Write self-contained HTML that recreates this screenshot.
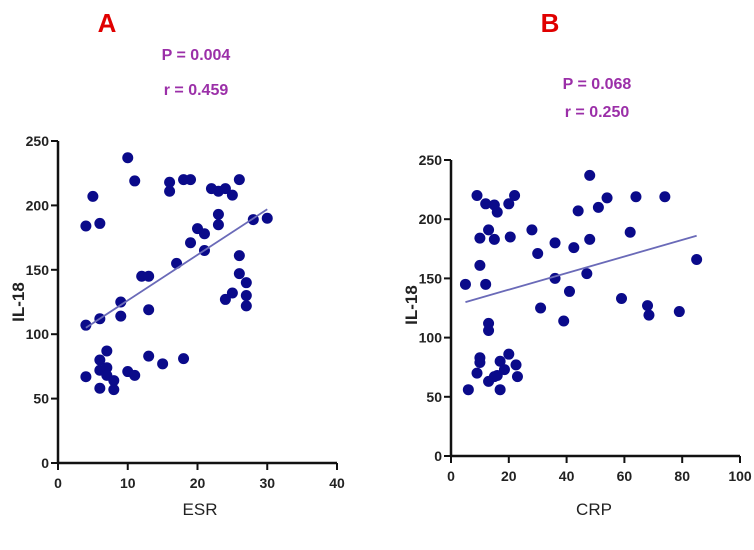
<!DOCTYPE html>
<html><head><meta charset="utf-8"><style>
body{margin:0;background:#fff;width:754px;height:545px;overflow:hidden}
svg{font-family:"Liberation Sans",sans-serif}
.tk{font-size:14px;font-weight:bold;fill:#222}
</style></head><body>
<svg id="c" width="754" height="545">
<text x="107" y="32" fill="#e00000" font-size="26" font-weight="bold" text-anchor="middle">A</text>
<text x="550" y="32" fill="#e00000" font-size="26" font-weight="bold" text-anchor="middle">B</text>
<text x="196" y="60" fill="#9b2fa8" font-size="16" font-weight="bold" text-anchor="middle">P = 0.004</text>
<text x="196" y="95" fill="#9b2fa8" font-size="16" font-weight="bold" text-anchor="middle">r = 0.459</text>
<text x="597" y="89" fill="#9b2fa8" font-size="16" font-weight="bold" text-anchor="middle">P = 0.068</text>
<text x="597" y="117" fill="#9b2fa8" font-size="16" font-weight="bold" text-anchor="middle">r = 0.250</text>
<text x="200" y="515" font-size="17" text-anchor="middle" fill="#222">ESR</text>
<text x="594" y="515" font-size="17" text-anchor="middle" fill="#222">CRP</text>
<text transform="translate(24,302) rotate(-90)" font-size="17" font-weight="bold" text-anchor="middle" fill="#222">IL-18</text>
<text transform="translate(417,305) rotate(-90)" font-size="17" font-weight="bold" text-anchor="middle" fill="#222">IL-18</text>
</svg>
<script>
const aX=[4,5,6,4,6,10,11,16,16,18,19,22,23,24,25,26,23,23,28,30,20,21,19,21,26,26,27,27,27,17,12,13,9,9,13,24,25,7,6,6,7,7,4,6,8,8,10,11,13,15,18];
const aY=[184,207,186,107,112,237,219,218,211,220,220,213,211,213,208,220,193,185,189,190,182,178,171,165,161,147,140,130,122,155,145,145,125,114,119,127,132,87,80,72,74,68,67,58,64,57,71,68,83,77,81];
const aFit=[[4,105],[30,197]];
const aXTicks=[0,10,20,30,40];
const aYTicks=[0,50,100,150,200,250];
const bX=[9,12,15,16,20,22,13,10,15,20.5,10,5,12,13,13,10,10,9,6,13,15,16,17,17,18.5,20,22.5,23,28,30,31,36,36,39,41,42.5,44,47,48,48,51,54,59,62,64,68,68.5,74,79,85];
const bY=[220,213,212,206,213,220,191,184,183,185,161,145,145,112,106,83,79,70,56,63,67,68,56,80,73,86,77,67,191,171,125,180,150,114,139,176,207,154,183,237,210,218,133,189,219,127,119,219,122,166];
const bFit=[[5,130],[85,186]];
const bXTicks=[0,20,40,60,80,100];
const bYTicks=[0,50,100,150,200,250];
const NS="http://www.w3.org/2000/svg",svg=document.getElementById('c');
function mk(t,a){const e=document.createElementNS(NS,t);for(const k in a)e.setAttribute(k,a[k]);svg.appendChild(e);return e;}
function panel(p,xs,ys,fit,xt,yt,x0,x1,xmax,y0,y1,ymax){
 const sx=v=>x0+(x1-x0)*v/xmax, sy=v=>y0-(y0-y1)*v/ymax;
 let e=mk('line',{x1:x0,y1:y0+1,x2:x0,y2:y1,stroke:'#111','stroke-width':2.5});
 
 
 e=mk('line',{x1:x0-1,y1:y0,x2:x1,y2:y0,stroke:'#111','stroke-width':2.5});
 
 
 xt.forEach(v=>{mk('line',{x1:sx(v),y1:y0,x2:sx(v),y2:y0+7,stroke:'#111','stroke-width':2});
  e=mk('text',{x:sx(v),y:y0+25,'text-anchor':'middle',class:'tk'});e.textContent=v;
  
  });
 yt.forEach(v=>{mk('line',{x1:x0-7,y1:sy(v),x2:x0,y2:sy(v),stroke:'#111','stroke-width':2});
  e=mk('text',{x:x0-9,y:sy(v)+5,'text-anchor':'end',class:'tk'});e.textContent=v;
  
  });
 xs.forEach((v,i)=>{e=mk('circle',{cx:sx(v),cy:sy(ys[i]),r:5.5,fill:'#0a0a8a'});
  
  });
 e=mk('line',{x1:sx(fit[0][0]),y1:sy(fit[0][1]),x2:sx(fit[1][0]),y2:sy(fit[1][1]),stroke:'#6a6ab8','stroke-width':1.8});
 
 
}
panel('panel-a',aX,aY,aFit,aXTicks,aYTicks,58,337,40,463,141,250);
panel('panel-b',bX,bY,bFit,bXTicks,bYTicks,451,740,100,456,160,250);
</script>
</body></html>
